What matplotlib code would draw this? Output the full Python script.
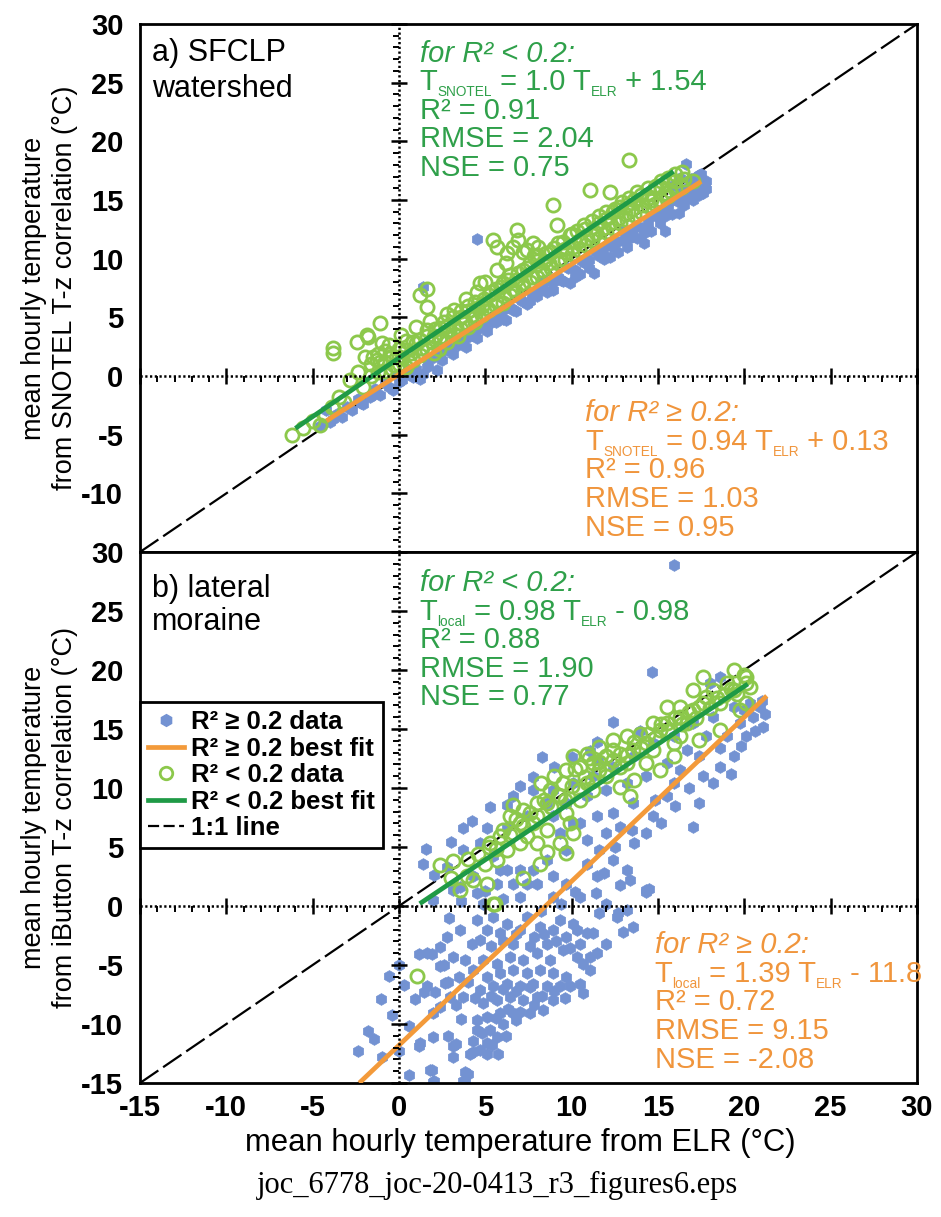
import numpy as np
import matplotlib
matplotlib.use('Agg')
import matplotlib.pyplot as plt
from matplotlib.lines import Line2D

plt.rcParams['font.family'] = ['Liberation Sans', 'DejaVu Sans']
plt.rcParams['axes.unicode_minus'] = False

BLUE = '#7392d2'
LIGHT_GREEN = '#8cc84b'
GREEN = '#1f9a46'
ORANGE = '#f39a3a'
TXT_GREEN = '#2fa04a'
TXT_ORANGE = '#f0953c'

# ---- panel a: SFCLP watershed ----
a_hi_x = [-4.6, -4.2, -4.0, -3.6, -3.3, -3.0, -2.7, -2.4, -2.1, -1.7, -1.4, -1.1, -0.8, -0.35, -0.2,
          0.2, 0.5, 0.8, 1.2, 1.4, 1.4, 1.7, 2.0, 2.2, 2.5, 2.8, 3.15, 3.4, 3.7, 3.9, 4.2, 4.5, 4.5,
          4.8, 5.1, 5.4, 5.7, 6.0, 6.2, 6.5, 6.8, 7.1, 7.4, 7.7, 8.0, 8.3, 8.6, 8.9, 8.9, 9.2, 9.5,
          9.9, 10.2, 10.5, 10.8, 11.0, 11.3, 11.6, 11.9, 12.2, 12.4, 12.7, 13.0, 13.2, 13.5, 13.8,
          14.2, 14.1, 14.4, 14.6, 14.9, 15.1, 15.4, 15.4, 15.6, 15.8, 15.8, 16.0, 16.2, 16.3, 16.3,
          16.5, 16.6, 16.7, 16.9, 17.0, 17.1, 17.2, 17.2, 17.4, 17.5, 17.6, 17.7, 17.8,
          -3.8, -2.2, -1.5, -0.6, 0.0, 0.6, 1.0, 1.6, 2.4, 3.0, 3.6, 4.0, 4.6, 5.0, 5.6, 6.0, 6.6,
          7.0, 7.6, 8.0, 8.4, 8.8, 9.4, 9.8, 10.2, 10.6, 11.0, 11.4, 11.8, 12.2, 12.6, 13.0, 13.4,
          13.8, 14.2, 14.6, 15.0, 15.4, 15.8, 16.2, 16.6, 17.0, 17.4, 17.8, 17.5, 16.9]
a_hi_y = [-4.3, -2.9, -3.9, -3.2, -3.5, -2.6, -2.9, -2.0, -2.4, -1.8, -1.1, -1.6, -0.6, -1.2, 0.1,
          -0.3, 0.5, -0.1, -0.25, 0.2, 7.6, 1.0, 1.6, 0.5, 1.4, 2.2, 1.9, 2.6, 3.0, 2.5, 3.5, 11.7, 3.2,
          4.4, 3.8, 4.6, 5.2, 4.9, 4.8, 5.8, 5.5, 6.4, 6.1, 7.0, 6.8, 7.6, 7.2, 7.3, 8.0, 8.4, 8.1,
          7.9, 9.0, 8.7, 9.6, 9.2, 8.8, 10.2, 10.0, 10.1, 11.0, 10.6, 11.6, 11.0, 12.2, 11.8,
          11.3, 12.6, 13.0, 12.4, 13.6, 13.0, 12.4, 14.2, 14.6, 13.8, 16.2, 15.2, 13.9, 15.6, 16.9,
          14.6, 18.1, 16.0, 15.2, 15.0, 16.6, 15.6, 17.0, 17.1, 16.0, 15.6, 16.4, 15.9,
          -3.7, -2.3, -1.6, -0.9, -0.5, 0.2, 0.6, 0.8, 2.0, 2.4, 2.9, 3.3, 4.0, 4.5, 4.6, 5.6, 5.6,
          6.6, 6.4, 7.3, 8.2, 8.0, 8.2, 9.2, 8.4, 9.8, 9.9, 10.6, 10.7, 11.2, 11.4, 12.4, 11.8,
          12.8, 12.2, 13.6, 14.0, 13.6, 15.0, 14.8, 15.4, 16.2, 15.4, 16.6, 17.2, 16.8]

a_lo_x = [-6.2, -5.55, -5.0, -4.6, -4.3, -3.9, -3.8, -3.8, -3.5, -3.2, -2.84, -2.45, -2.4, -2.1,
          -1.97, -1.85, -1.77, -1.5, -1.29, -1.1, -1.1, -1.0, -0.8, -0.6, -0.5, -0.3, 0.0, 0.1, 0.2,
          0.4, 0.6, 0.7, 1.0, 1.0, 1.22, 1.6, 1.6, 1.3, 1.6, 1.8, 1.9, 2.1, 2.3, 2.4, 2.6, 2.8, 2.9,
          3.1, 3.3, 3.4, 3.6, 3.8, 3.9, 4.0, 4.2, 4.4, 4.5, 4.6, 4.69, 4.9, 5.0, 5.1, 5.3, 5.47, 5.6,
          5.66, 5.7, 5.9, 6.1, 6.2, 6.24, 6.3, 6.6, 6.62, 6.82, 6.9, 6.91, 7.1, 7.2, 7.4, 7.4, 7.7,
          7.78, 7.8, 8.0, 8.07, 8.3, 8.5, 8.7, 8.94, 9.0, 9.13, 9.3, 9.5, 9.7, 9.9, 10.1, 10.3, 10.5,
          10.7, 10.9, 11.06, 11.2, 11.4, 11.6, 11.8, 12.0, 12.2, 12.2, 12.5, 12.7, 12.9, 13.1, 13.3,
          13.3, 13.5, 13.8, 14.1, 14.4, 14.6, 14.9, 15.2, 15.4, 15.7, 16.0, 16.5,
          -1.6, -1.6, -1.2, -1.2, -0.8, -0.8, -0.4, -0.4, 0.0, 0.0, 0.4, 0.4, 0.8, 0.8, 1.2, 1.2,
          1.6, 1.6, 2.0, 2.0, 2.4, 2.4, 2.8, 2.8, 3.2, 3.2, 3.6, 3.6, 4.0, 4.0, 4.4, 4.4, 4.8, 4.8,
          5.2, 5.2, 5.6, 5.6, 6.0, 6.0, 6.4, 6.4, 6.8, 6.8, 7.2, 7.2, 7.6, 7.6, 8.0, 8.0, 8.4, 8.4,
          8.8, 8.8, 9.2, 9.2, 9.6, 9.6, 10.0, 10.0, 10.4, 10.4, 10.8, 10.8, 11.2, 11.2, 11.6, 11.6,
          12.0, 12.0, 12.4, 12.4, 12.8, 12.8, 13.2, 13.2, 13.6, 13.6, 14.0, 14.0, 14.4, 14.4, 14.8,
          14.8, 15.2, 15.2, 15.6, 15.6, 16.0, 16.0, 16.4, 16.4, 17.0]
a_lo_y = [-5.0, -4.45, -3.8, -4.2, -3.3, -2.6, 2.35, 1.93, -1.8, -2.2, -0.34, 2.92, 0.3, -0.9,
          1.64, 3.5, 3.35, 1.6, 1.36, 4.5, 1.2, 2.78, 0.4, 2.6, 1.9, 0.9, 2.3, 3.5, 1.5,
          3.0, 1.2, 2.0, 4.2, 2.8, 6.9, 7.4, 5.9, 2.4, 3.4, 4.7, 2.9, 4.0, 2.3, 3.3, 4.6, 5.3, 3.8,
          5.0, 4.2, 3.4, 5.5, 4.6, 6.6, 6.0, 5.2, 4.6, 7.2, 5.8, 7.9, 6.6, 8.0, 5.8, 7.2, 11.59, 6.4,
          11.02, 9.0, 7.6, 6.8, 9.6, 10.45, 8.2, 7.4, 11.02, 12.44, 8.8, 11.59, 7.9, 10.6, 9.2, 10.7, 8.4,
          11.3, 10.2, 9.8, 11.0, 9.0, 10.5, 9.6, 14.57, 10.9, 12.9, 10.0, 11.4, 10.6, 12.0, 11.0, 12.4, 11.6,
          12.9, 11.8, 15.85, 13.2, 12.2, 13.6, 12.6, 14.0, 15.7, 13.0, 14.2, 13.4, 14.8, 13.8, 18.4,
          15.2, 14.2, 15.7, 14.6, 16.0, 15.0, 16.2, 16.1, 15.6, 15.8, 16.6, 16.8,
          0.0, 1.0, 0.3, 1.9, 1.2, 2.1, 0.6, 1.7, 1.0, 1.6, 0.8, 2.2, 1.4, 2.9, 1.8, 3.1,
          2.2, 3.9, 2.0, 3.4, 3.0, 4.1, 2.9, 4.3, 3.6, 5.6, 4.0, 5.0, 4.2, 5.5, 5.0, 6.3, 5.2, 6.0,
          5.6, 6.9, 6.0, 7.4, 6.2, 7.9, 6.9, 8.6, 7.2, 8.2, 7.6, 9.0, 8.0, 9.6, 8.4, 10.3, 8.6, 9.8,
          9.2, 10.6, 9.6, 11.3, 9.9, 10.8, 10.4, 12.1, 10.7, 11.5, 11.2, 12.5, 11.6, 12.0, 11.8, 13.0,
          12.3, 13.4, 12.6, 14.0, 13.0, 14.4, 13.3, 14.6, 13.7, 15.0, 14.0, 15.4, 14.5, 15.2, 14.7,
          16.0, 15.0, 16.6, 15.3, 16.9, 15.9, 17.2, 16.1, 17.4, 16.6]

# ---- panel b: lateral moraine ----
b_hi_x = [15.9, 14.63, 18.6, 18.0, 12.4, 13.95, 11.45, 11.06, 7.78, 6.23, 3.72, 5.07, 1.41, 9.3, 10.48,
          12.4, 13.57, 15.5, 17.0, 17.4, 18.2, 19.4, 20.1, 21.1, 21.2, 20.3, 18.6, 16.3, 15.9, 14.7,
          14.3, 13.6, 12.4, 13.2, 14.3, 11.45, 10.5, 9.7, 8.55, 7.97, 7.0, 6.23, 6.62, 5.65, 4.5, 4.88,
          3.53, 7.78, 8.93, 5.85, 7.0, 7.4, 8.9, 9.7, 10.9, 11.6, 10.9, 12.0, 12.8, 11.45, 10.1, 8.9,
          9.7, 10.9, 12.0, 13.2, 14.3, 15.5, 16.7, 17.4, 17.8, 19.0, 19.75, 20.5, 20.9, 19.4, 18.2,
          17.05, 15.9, 14.7, 13.6, 12.4, 11.25, 10.1, 8.9, 6.62, 5.27, 7.78, 8.55, 7.4, 6.23, 4.7, 5.46,
          3.72, 2.76, 4.3, 3.14, 1.99, 12.8, 13.4, 14.3, 11.4, 12.0, 1.54, 14.45,
          12.6, 13.2, 13.57, 13.0, 12.68, 11.6, 11.25, 12.0, 11.45, 10.67, 11.06, 10.5, 10.67, 9.9, 8.93,
          1.6, 2.37, 2.76, 3.53, 3.14, 2.37, 1.6, 2.66, 3.5, 3.7, 2.95, 1.99, 1.2, 1.99, 3.14, 4.1,
          3.14, 1.79, 1.99, 3.7, 4.0, 5.07, 5.75,
          4.5, 4.7, 5.07, 5.46, 5.85, 6.23, 6.62, 7.0, 7.4, 7.8, 8.16, 8.55, 8.93, 9.32, 9.7, 10.1,
          10.5, 10.87, 11.06, 10.3, 9.5, 8.74, 7.97, 7.2, 6.4, 5.65, 4.88, 4.3, 5.07, 5.85, 6.62, 7.4,
          8.16, 8.93, 9.7, 9.32, 8.55, 7.78, 7.0, 6.23, 5.46, 4.7, 4.88, 5.65, 6.43, 7.2, 7.97, 6.62,
          5.85, 5.07, 4.5, 4.5, 5.27, 6.04, 6.8, 7.58, 8.36, 4.3, 5.07, 5.65, 4.7,
          -2.37, -1.78, -1.42, -1.07, -0.59, 0.0, 0.0, 0.59, 1.18, 2.0, 1.9, 0.95, 1.42, 1.18, 1.9,
          2.6, 2.1, 2.84, 3.3, 2.84, 3.3, 3.8, 3.8, 4.27,
          6.0, 6.8, 7.6, 8.4, 9.1, 9.9, 10.3, 5.3, 4.2, 3.8, 4.0, 4.4, 5.3, 6.0, 6.8, 7.6, 8.3, 9.0,
          9.6, 5.6, 6.3, 7.0, 7.8, 4.8, 6.2, 5.4, 3.6, 2.4, 0.6, -0.4, -1.0, 0.3, 2.9, 3.6, 5.0, 6.0,
          8.2, 9.4, 10.2, 11.9, 12.5, 13.5, 14.8, 15.2, 16.0, 16.8, 17.6, 18.6, 19.2, 19.8, 20.6, 21.0,
          20.0, 3.0, 4.2, 2.0, 9.0, 10.0, 11.5, 7.0, 8.3]
b_hi_y = [28.9, 19.86, 19.4, 18.9, 15.6, 14.8, 13.9, 13.1, 10.96, 8.56, 6.6, 6.6, 3.6, 6.2, 7.0,
          7.9, 8.7, 9.3, 6.7, 8.7, 10.4, 12.7, 14.4, 15.2, 16.3, 17.2, 11.8, 11.5, 10.4, 7.6,
          6.2, 5.3, 3.9, 3.05, 1.35, 2.5, 0.8, 4.75, 3.9, 1.9, 0.8, 3.05, 1.9, 1.9, 1.1, 0.2,
          1.64, 3.05, 2.5, 3.05, 3.05, 1.9, 0.8, 1.9, 3.6, 4.75, 5.6, 6.2, 6.7, 7.6, 7.0, 7.6,
          8.7, 9.3, 9.8, 10.4, 11.0, 12.1, 13.2, 12.7, 14.4, 14.4, 15.5, 16.0, 16.9, 16.9, 16.0,
          15.5, 14.4, 13.8, 12.7, 11.8, 11.0, 10.4, 9.8, 9.3, 8.4, 9.8, 8.7, 7.6, 6.7, 5.3, 4.2,
          4.75, 3.3, 2.5, 1.36, 0.5, 1.8, 2.2, 1.2, 1.07, 0.2, 4.86, 1.43,
          -0.9, -0.3, -1.75, -2.2, -0.6, -0.6, -2.3, -3.2, -4.0, -4.9, -5.4, -6.6, -7.4, -6.8, -8.0,
          -4.0, -3.45, -2.6, -2.0, -4.3, -5.1, -6.8, -6.56, -6.0, -7.7, -7.7, -9.1, -11.6, -11.1, -11.9, -12.5,
          -12.8, -13.9, -14.9, -14.8, -14.2, -12.5, -12.5,
          -1.2, -2.9, -2.0, -0.9, -2.3, -1.5, -3.2, -2.0, -0.9, -2.6, -1.75, -3.2, -2.0, -1.2, -2.6, -1.5,
          -3.2, -2.3, -4.3, -4.3, -3.7, -4.6, -4.0, -4.6, -4.3, -4.9, -4.6, -5.4, -6.0, -5.7, -5.4, -5.7,
          -5.4, -5.7, -6.0, -6.8, -6.8, -6.6, -6.8, -6.6, -6.8, -7.1, -8.25, -8.0, -7.7, -8.0, -7.7, -9.1,
          -9.1, -9.4, -9.7, -10.5, -10.5, -10.0, -9.7, -9.1, -8.8, -11.4, -11.6, -11.1, -12.2,
          -12.3, -10.6, -11.3, -7.9, -5.9, -5.0, -12.3, -14.3, -11.9, -14.8, -13.9, -7.9, -7.3, -4.1, -4.1,
          -5.0, -7.3, -6.4, -8.4, -11.0, -11.7, -14.1, -14.8, -12.4,
          -3.0, -2.4, -3.4, -2.4, -3.0, -3.6, -2.0, -3.4, -3.2, -4.6, -6.4, -7.8, -7.6, -7.0, -7.2, -6.9, -7.6, -7.2,
          -7.8, -9.5, -8.7, -9.0, -8.4, -10.8, -11.0, -11.8, -9.6, -8.6, -10.2, -9.2, -12.8, -6.7, -1.0, 0.4, 1.3, 0.6,
          -0.4, 0.2, 1.2, 2.8, 5.0, 6.4, 9.0, 7.0, 8.5, 10.0, 11.0, 13.4, 11.2, 13.6, 14.8, 17.4,
          16.6, 5.4, 7.2, 2.6, 11.8, 12.6, 12.4, 10.2, 12.6]

b_lo_x = [2.37, 3.14, 3.53, 4.3, 5.07, 5.46, 7.2, 5.27, 5.85, 6.43, 7.0, 7.97, 8.16, 8.55, 9.3, 9.7,
          10.1, 7.2, 7.97, 8.74, 9.5, 9.7, 10.48, 11.25, 12.0, 12.4, 12.8, 13.4, 13.6, 14.3, 14.7,
          15.1, 15.5, 15.9, 16.3, 16.7, 17.05, 17.4, 17.6, 18.2, 18.6, 19.0, 19.4, 19.75, 20.1, 20.1,
          18.6, 17.4, 15.9, 15.1, 17.05, 16.3, 15.5, 16.3, 11.25, 12.8, 12.0, 10.9, 10.5, 9.7, 8.55,
          7.78, 6.62, 6.23, 7.0, 5.65, 3.92, 10.1, 10.9, 11.6, 12.4, 13.2, 13.95, 14.7, 13.57, 9.3,
          11.6, 13.2, 14.3, 17.8, 19.4, 20.1, 1.07, 5.57,
          3.0, 4.0, 4.6, 5.2, 5.6, 6.0, 6.4, 6.8, 7.2, 7.6, 8.0, 8.4, 8.8, 9.2, 9.6, 10.0, 10.4, 10.8,
          11.2, 11.6, 12.0, 12.4, 12.8, 13.2, 13.6, 14.0, 14.4, 14.8, 15.2, 15.6, 16.0, 16.4, 16.8,
          17.2, 17.6, 18.0, 18.4, 18.8, 19.2, 19.6, 20.0, 20.3, 8.2, 9.0, 10.2, 11.0, 6.6, 5.0, 7.4,
          8.6, 9.9]
b_lo_y = [3.5, 3.8, 1.36, 2.2, 1.9, 0.2, 2.35, 5.3, 5.9, 7.6, 7.0, 5.3, 3.6, 4.6, 5.3, 4.5,
          6.2, 8.1, 8.7, 9.8, 10.4, 11.5, 11.8, 12.1, 12.7, 13.2, 11.8, 9.3, 10.7, 12.1, 13.2,
          14.9, 15.5, 13.8, 14.4, 15.5, 16.6, 16.9, 19.4, 18.3, 17.2, 18.9, 20.0, 16.6, 18.9, 17.2,
          14.9, 14.1, 12.7, 11.5, 18.3, 16.9, 16.9, 16.0, 9.8, 10.1, 11.0, 10.4, 9.0, 7.9, 8.7,
          7.0, 6.2, 4.75, 5.3, 3.9, 2.5, 12.7, 12.9, 13.5, 14.1, 14.4, 14.6, 15.5, 13.2, 9.3,
          11.5, 12.1, 13.8, 17.7, 18.3, 19.4, -5.9, 0.14,
          2.4, 4.0, 4.4, 5.0, 4.8, 6.4, 6.0, 7.4, 6.8, 7.9, 7.6, 9.0, 8.4, 9.4, 9.0, 10.2, 9.8, 10.9,
          10.6, 12.2, 11.4, 12.4, 12.9, 12.8, 13.9, 13.4, 14.6, 14.2, 15.4, 14.8, 15.9, 15.4, 16.4,
          15.9, 17.2, 16.8, 17.6, 17.9, 18.4, 18.0, 19.6, 18.6, 10.4, 11.0, 11.6, 12.5, 8.6, 3.6, 5.9,
          6.4, 7.0]

# best-fit equations (slope, intercept) and the x span each line covers
fit_a_hi, span_a_hi = (0.94, 0.13), (-4.2, 17.5)
fit_a_lo, span_a_lo = (1.0, 1.54), (-6.0, 15.9)
fit_b_hi, span_b_hi = (1.39, -11.8), (-2.3, 21.3)
fit_b_lo, span_b_lo = (0.98, -0.98), (1.2, 20.2)

# statistics printed in each panel: condition, site subscript, equation terms, R2, RMSE, NSE
stats_a_lo = ('<', 'SNOTEL', '1.0', '+ 1.54', '0.91', '2.04', '0.75')
stats_a_hi = ('≥', 'SNOTEL', '0.94', '+ 0.13', '0.96', '1.03', '0.95')
stats_b_lo = ('<', 'local', '0.98', '- 0.98', '0.88', '1.90', '0.77')
stats_b_hi = ('≥', 'local', '1.39', '- 11.8', '0.72', '9.15', '-2.08')

legend_labels = ['R² ≥ 0.2 data', 'R² ≥ 0.2 best fit', 'R² < 0.2 data', 'R² < 0.2 best fit', '1:1 line']

LIM = (-15, 30)
FS = 21
SUB_FS = 9.8
STEP = 20.6


def zero_axes(ax):
	# dotted cross through the origin with Excel-style tick marks
	major = np.arange(-15, 31, 5)
	minor = np.array([v for v in range(-15, 31) if v % 5 != 0])
	ax.axhline(0, color='k', lw=1.8, ls=(0, (0.9, 1.0)), zorder=6)
	ax.axvline(0, color='k', lw=1.8, ls=(0, (0.9, 1.0)), zorder=6)
	ax.plot(major, np.zeros_like(major), ls='none', marker='|', ms=12, mew=1.8, color='k', zorder=6, clip_on=False)
	ax.plot(minor, np.zeros_like(minor), ls='none', marker=3, ms=4, mew=1.4, color='k', zorder=6)
	ax.plot(np.zeros_like(major), major, ls='none', marker='_', ms=12, mew=1.8, color='k', zorder=6, clip_on=False)
	ax.plot(np.zeros_like(minor), minor, ls='none', marker=0, ms=4, mew=1.4, color='k', zorder=6)


def put_runs(ax, x, y, dy, runs, color, renderer):
	dx = 0.0
	for s, size, shift in runs:
		t = ax.annotate(s, (x, y), xytext=(dx, dy + shift), textcoords='offset points',
						color=color, fontsize=size, va='baseline', ha='left', zorder=8)
		dx += t.get_window_extent(renderer).width * 72 / ax.figure.dpi


def stats_block(ax, x, y, stats, color):
	cond, site, slope, icpt, r2, rmse, nse = stats
	renderer = ax.figure.canvas.get_renderer()
	ax.annotate('for R² %s 0.2:' % cond, (x, y), xytext=(0, 0), textcoords='offset points',
				color=color, fontsize=FS, style='italic', va='baseline', ha='left', zorder=8)
	put_runs(ax, x, y, -STEP, [('T', FS, 0), (site, SUB_FS, -4.5), (' = %s T' % slope, FS, 0),
							   ('ELR', SUB_FS, -4.5), (' %s' % icpt, FS, 0)], color, renderer)
	for i, s in enumerate(['R² = ' + r2, 'RMSE = ' + rmse, 'NSE = ' + nse]):
		ax.annotate(s, (x, y), xytext=(0, -(i + 2) * STEP), textcoords='offset points',
					color=color, fontsize=FS, va='baseline', ha='left', zorder=8)


def draw_panel(ax, hi_x, hi_y, lo_x, lo_y, fit_hi, span_hi, fit_lo, span_lo):
	ax.plot(LIM, LIM, color='k', lw=1.6, ls=(0, (10, 2.6)), zorder=1)
	ax.plot(hi_x, hi_y, ls='none', marker='h', ms=8.5, mfc=BLUE, mec=BLUE, mew=0.5, zorder=2)
	ax.plot(lo_x, lo_y, ls='none', marker='o', ms=9.5, mfc='none', mec=LIGHT_GREEN, mew=2.0, zorder=3)
	xs = np.array(span_hi)
	ax.plot(xs, fit_hi[0] * xs + fit_hi[1], color=ORANGE, lw=3.4, solid_capstyle='butt', zorder=4)
	xs = np.array(span_lo)
	ax.plot(xs, fit_lo[0] * xs + fit_lo[1], color=GREEN, lw=3.4, solid_capstyle='butt', zorder=5)
	zero_axes(ax)
	ax.set_xlim(*LIM)
	ax.set_ylim(*LIM)
	ax.tick_params(length=0, labelsize=21)
	ax.tick_params(axis='y', pad=12)
	ax.tick_params(axis='x', pad=8)
	for lab in ax.get_xticklabels() + ax.get_yticklabels():
		lab.set_fontweight('bold')
	for sp in ax.spines.values():
		sp.set_linewidth(2)


fig = plt.figure(figsize=(9.41, 12.17), dpi=100)
ax_a = fig.add_axes([140 / 941, 1 - 552 / 1217, 777 / 941, 528 / 1217])
ax_b = fig.add_axes([140 / 941, 1 - 1083 / 1217, 777 / 941, 531 / 1217])

for ax, ticks in ((ax_a, np.arange(-10, 31, 5)), (ax_b, np.arange(-15, 31, 5))):
	ax.set_xticks(np.arange(-15, 31, 5))
	ax.set_yticks(ticks)

draw_panel(ax_a, a_hi_x, a_hi_y, a_lo_x, a_lo_y, fit_a_hi, span_a_hi, fit_a_lo, span_a_lo)
draw_panel(ax_b, b_hi_x, b_hi_y, b_lo_x, b_lo_y, fit_b_hi, span_b_hi, fit_b_lo, span_b_lo)
ax_a.set_xticklabels([])

stats_block(ax_a, 1.2, 26.8, stats_a_lo, TXT_GREEN)
stats_block(ax_a, 10.8, -3.85, stats_a_hi, TXT_ORANGE)
stats_block(ax_b, 1.2, 26.7, stats_b_lo, TXT_GREEN)
stats_block(ax_b, 14.8, -4.0, stats_b_hi, TXT_ORANGE)

ax_a.text(-14.3, 27.5, 'a) SFCLP', fontsize=22, va='center', ha='left')
ax_a.text(-14.3, 24.5, 'watershed', fontsize=22, va='center', ha='left')
ax_b.text(-14.3, 26.9, 'b) lateral', fontsize=22, va='center', ha='left')
ax_b.text(-14.3, 24.1, 'moraine', fontsize=22, va='center', ha='left')

ax_a.set_ylabel('mean hourly temperature\nfrom SNOTEL T-z correlation (°C)', fontsize=19.5, linespacing=1.25)
ax_b.set_ylabel('mean hourly temperature\nfrom iButton T-z correlation (°C)', fontsize=19.5, linespacing=1.25)
ax_a.yaxis.set_label_coords(-0.08, 0.5)
ax_b.yaxis.set_label_coords(-0.08, 0.5)
ax_b.set_xlabel('mean hourly temperature from ELR (°C)', fontsize=22.3)
ax_b.xaxis.set_label_coords(0.49, -0.085)

handles = [
	Line2D([], [], ls='none', marker='h', ms=8.5, mfc=BLUE, mec=BLUE),
	Line2D([], [], color=ORANGE, lw=3.4),
	Line2D([], [], ls='none', marker='o', ms=9, mfc='none', mec=LIGHT_GREEN, mew=2.0),
	Line2D([], [], color=GREEN, lw=3.4),
	Line2D([], [], color='k', lw=1.6, ls=(0, (5, 2))),
]
leg = ax_b.legend(handles, legend_labels, loc='upper left', bbox_to_anchor=(0, 0.717),
				  borderaxespad=0, fancybox=False, edgecolor='k', framealpha=1,
				  prop={'weight': 'bold', 'size': 18.5}, handlelength=1.4,
				  handletextpad=0.3, labelspacing=0.1, borderpad=0.3)
leg.get_frame().set_linewidth(2)
leg.set_zorder(10)

fig.text(498 / 941, 1 - 1185 / 1217, 'joc_6778_joc-20-0413_r3_figures6.eps',
		 family=['Liberation Serif', 'DejaVu Serif'], fontsize=22, ha='center', va='center')

fig.savefig('out.png', dpi=100)
